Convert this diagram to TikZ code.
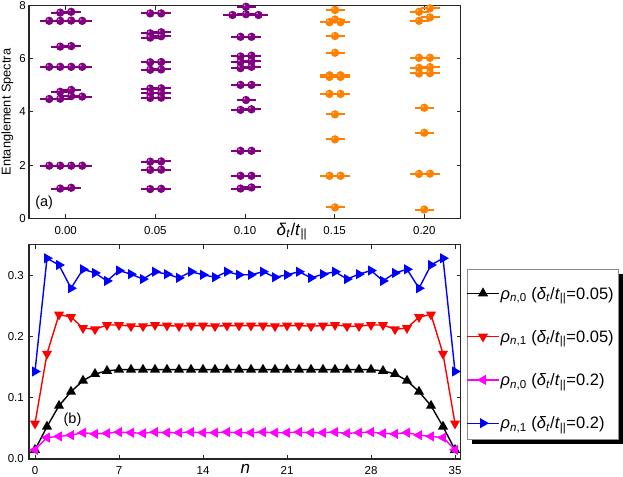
\documentclass[tikz,border=0pt]{standalone}
\usepackage{fontspec}
\setmainfont{Liberation Sans}
\usetikzlibrary{plotmarks}
\definecolor{vpurple}{RGB}{128,0,128}
\definecolor{vorange}{RGB}{255,128,0}
\definecolor{vmag}{RGB}{255,0,255}
\definecolor{vblue}{RGB}{0,0,255}
\definecolor{vred}{RGB}{255,0,0}
\newcommand\rlab[2]{\textit{ρ}\textsubscript{\textit{n},#1} (\textit{δ}\textsubscript{\textit{t}}/\textit{t}\textsubscript{||}=#2)}
\newcommand\ballrow[2]{\foreach \xx/\vv in #1 {
    \fill[#2] (\xx,\vv) circle[radius=4.2pt];
    \fill[#2!45!white] ([xshift=-1.5pt,yshift=1.5pt]\xx,\vv) circle[radius=1.0pt];}}
\newcommand\barrow[2]{\foreach \xx/\vv in #1 {\draw[levbar,#2] (\xx-9.5,\vv) -- (\xx+9.5,\vv);}}
\def\colA{60.2/7.74,71.2/7.77, 49.2/7.43,60.2/7.43,71.2/7.44,82.2/7.43, 60.2/6.46,71.2/6.48, 49.2/5.70,60.2/5.70,71.2/5.70,82.2/5.70, 60.2/4.76,71.2/4.83, 49.2/4.49,60.2/4.50,71.2/4.60,82.2/4.58, 49.2/1.98,60.2/1.98,71.2/1.98,82.2/1.98, 60.2/1.12,71.2/1.15}
\def\colB{150.2/7.71,161.2/7.71, 150.2/6.96,161.2/7.00, 150.2/6.80,161.2/6.85, 150.2/5.87,161.2/5.88, 150.2/5.59,161.2/5.60, 150.2/4.88,161.2/4.89, 150.2/4.70,161.2/4.71, 150.2/4.53,161.2/4.54, 150.2/2.13,161.2/2.14, 150.2/1.82,161.2/1.83, 150.2/1.10,161.2/1.11}
\def\colC{246/7.96, 232.5/7.65,246/7.68,258.5/7.65, 240.5/6.83,251.5/6.83, 240.5/6.09,251.5/6.12, 240.5/5.88,251.5/5.91, 240.5/5.65,251.5/5.70, 240.5/5.02,251.5/5.02, 246/4.45, 240.5/4.08,251.5/4.10, 240.5/2.54,251.5/2.54, 240.5/1.60,251.5/1.60, 240.5/1.12,251.5/1.16}
\def\colD{335/7.84, 329.5/7.38,335/7.48,340.5/7.38, 335/6.86, 335/6.23, 329.5/5.38,340.5/5.38, 329.5/5.32,340.5/5.32, 329.5/4.68,340.5/4.68, 335/3.91, 335/2.97, 329.5/1.60,340.5/1.60, 335/0.41}
\def\colE{419/7.77,430/7.90, 419/7.43,430/7.56, 419/6.04,430/6.04, 419/5.66,430/5.69, 419/5.45,430/5.46, 424.3/4.16, 424.3/3.22, 419/1.67,430/1.68, 424.3/0.33}
\begin{document}
\begin{tikzpicture}[x=1pt,y=-1pt,
  frame/.style={draw=black!85, line width=1.1pt},
  tickmark/.style={draw=black!85, line width=1pt},
  ticklab/.style={font=\fontsize{11.5}{13}\selectfont, inner sep=0pt},
  levbar/.style={line width=2pt},
  ser/.style={line width=1.4pt, mark size=4.5pt},
  leglab/.style={font=\fontsize{16.5}{19}\selectfont, anchor=base west, inner sep=0pt},
  biglab/.style={font=\fontsize{17}{20}\selectfont, anchor=base west, inner sep=0pt}]
\useasboundingbox (0,0) rectangle (623,476);
% ---------- top panel ----------
\draw[frame] (29,5.7) rectangle (460.7,218.3);
\foreach \xx in {65.7,155.35,245.0,334.65,424.3} {
  \draw[tickmark] (\xx,218.3) -- (\xx,214.3);
  \draw[tickmark] (\xx,5.7) -- (\xx,9.7);
}
\foreach \yy in {218.3,165.15,112.0,58.85,5.7} {
  \draw[tickmark] (29,\yy) -- (33,\yy);
  \draw[tickmark] (460.7,\yy) -- (456.7,\yy);
}
\node[ticklab, anchor=east] (ya0) at (26,218.3) {0};
\node[ticklab, anchor=east] (ya2) at (26,165.15) {2};
\node[ticklab, anchor=east] (ya4) at (26,112.0) {4};
\node[ticklab, anchor=east] (ya6) at (26,58.85) {6};
\node[ticklab, anchor=east] (ya8) at (26,5.7) {8};
\node[ticklab, anchor=base] (xa0) at (65.7,234.3) {0.00};
\node[ticklab, anchor=base] (xa1) at (155.35,234.3) {0.05};
\node[ticklab, anchor=base] (xa2) at (245.0,234.3) {0.10};
\node[ticklab, anchor=base] (xa3) at (334.65,234.3) {0.15};
\node[ticklab, anchor=base] (xa4) at (424.3,234.3) {0.20};
\node[biglab] (xlab) at (276.5,235) {\textit{δ}\textsubscript{\textit{t}}/\textit{t}\textsubscript{||}};
\node[font=\fontsize{12.8}{15}\selectfont, rotate=90, anchor=base, inner sep=0pt] (ylab) at (10.7,112) {Entanglement Spectra};
\node[font=\fontsize{14.5}{16}\selectfont, inner sep=0pt] (pa) at (44.2,203) {(a)};
\begin{scope}[shift={(0pt,-218.3pt)}, x=1pt, y=26.575pt]
  \barrow{\colA}{vpurple}
  \barrow{\colB}{vpurple}
  \barrow{\colC}{vpurple}
  \barrow{\colD}{vorange}
  \barrow{\colE}{vorange}
  \ballrow{\colA}{vpurple}
  \ballrow{\colB}{vpurple}
  \ballrow{\colC}{vpurple}
  \ballrow{\colD}{vorange}
  \ballrow{\colE}{vorange}
\end{scope}
% ---------- bottom panel ----------
\draw[frame] (29,244.8) rectangle (460.7,459);
\foreach \nn in {0,7,14,21,28,35} {
  \draw[tickmark] (35+12*\nn,459) -- (35+12*\nn,455);
  \draw[tickmark] (35+12*\nn,244.8) -- (35+12*\nn,248.8);
}
\foreach \yy in {459,397.8,336.6,275.4} {
  \draw[tickmark] (29,\yy) -- (33,\yy);
  \draw[tickmark] (460.7,\yy) -- (456.7,\yy);
}
\node[ticklab, anchor=east] (yb0) at (24,459) {0.0};
\node[ticklab, anchor=east] (yb1) at (24,397.8) {0.1};
\node[ticklab, anchor=east] (yb2) at (24,336.6) {0.2};
\node[ticklab, anchor=east] (yb3) at (24,275.4) {0.3};
\node[ticklab, anchor=base] (xb0) at (35,474.5) {0};
\node[ticklab, anchor=base] (xb1) at (119,474.5) {7};
\node[ticklab, anchor=base] (xb2) at (203,474.5) {14};
\node[ticklab, anchor=base] (xb3) at (287,474.5) {21};
\node[ticklab, anchor=base] (xb4) at (371,474.5) {28};
\node[ticklab, anchor=base] (xb5) at (455,474.5) {35};
\node[biglab, font=\fontsize{17}{20}\selectfont\itshape] (nlab) at (240.5,473.8) {n};
\begin{scope}[shift={(35pt,-459pt)}, x=12pt, y=612pt]
  \draw[ser, black] plot[mark=triangle*] coordinates {(0,0.015)(1,0.053)(2,0.087)(3,0.110)(4,0.128)(5,0.139)(6,0.144)(7,0.146)(8,0.146)(9,0.146)(10,0.146)(11,0.146)(12,0.146)(13,0.146)(14,0.146)(15,0.146)(16,0.146)(17,0.146)(18,0.146)(19,0.146)(20,0.146)(21,0.146)(22,0.146)(23,0.146)(24,0.146)(25,0.146)(26,0.146)(27,0.146)(28,0.146)(29,0.144)(30,0.139)(31,0.128)(32,0.110)(33,0.087)(34,0.053)(35,0.015)};
  \draw[ser, vred] plot[mark=triangle*, mark options={rotate=180}] coordinates {(0,0.058)(1,0.172)(2,0.236)(3,0.232)(4,0.214)(5,0.212)(6,0.219)(7,0.219)(8,0.217)(9,0.217)(10,0.219)(11,0.218)(12,0.217)(13,0.218)(14,0.218)(15,0.217)(16,0.218)(17,0.218)(18,0.218)(19,0.218)(20,0.217)(21,0.218)(22,0.218)(23,0.217)(24,0.218)(25,0.219)(26,0.217)(27,0.217)(28,0.219)(29,0.219)(30,0.212)(31,0.214)(32,0.232)(33,0.236)(34,0.172)(35,0.058)};
  \draw[ser, vmag] plot[mark=triangle*, mark options={rotate=90}] coordinates {(0,0.015)(1,0.035)(2,0.037)(3,0.039)(4,0.043)(5,0.041)(6,0.042)(7,0.044)(8,0.043)(9,0.042)(10,0.044)(11,0.043)(12,0.043)(13,0.044)(14,0.043)(15,0.043)(16,0.044)(17,0.043)(18,0.043)(19,0.044)(20,0.043)(21,0.043)(22,0.044)(23,0.043)(24,0.043)(25,0.044)(26,0.042)(27,0.043)(28,0.044)(29,0.042)(30,0.041)(31,0.043)(32,0.039)(33,0.037)(34,0.035)(35,0.015)};
  \draw[ser, vblue] plot[mark=triangle*, mark options={rotate=-90}] coordinates {(0,0.143)(1,0.328)(2,0.317)(3,0.279)(4,0.310)(5,0.304)(6,0.291)(7,0.308)(8,0.302)(9,0.294)(10,0.306)(11,0.302)(12,0.296)(13,0.306)(14,0.301)(15,0.297)(16,0.306)(17,0.301)(18,0.301)(19,0.306)(20,0.297)(21,0.301)(22,0.306)(23,0.296)(24,0.302)(25,0.306)(26,0.294)(27,0.302)(28,0.308)(29,0.291)(30,0.304)(31,0.310)(32,0.279)(33,0.317)(34,0.328)(35,0.143)};
\end{scope}
\node[font=\fontsize{14.5}{16}\selectfont, inner sep=0pt] (pb) at (72.5,419.7) {(b)};
% ---------- legend ----------
\fill[black] (471.5,273.8) rectangle (623,443.8);
\filldraw[fill=white, draw=black!45, line width=0.6pt] (467,269.3) rectangle (618.3,439.3);
\draw[ser, black] (467,293.3) -- (499,293.3) plot[mark=triangle*] coordinates {(483,293.3)};
\draw[ser, vred] (467,336.6) -- (499,336.6) plot[mark=triangle*, mark options={rotate=180}] coordinates {(483,336.6)};
\draw[ser, vmag] (467,379.9) -- (499,379.9) plot[mark=triangle*, mark options={rotate=90}] coordinates {(483,379.9)};
\draw[ser, vblue] (467,423.2) -- (499,423.2) plot[mark=triangle*, mark options={rotate=-90}] coordinates {(483,423.2)};
\node[leglab] (l1) at (500.5,299) {\rlab{0}{0.05}};
\node[leglab] (l2) at (500.5,342.3) {\rlab{1}{0.05}};
\node[leglab] (l3) at (500.5,385.6) {\rlab{0}{0.2}};
\node[leglab] (l4) at (500.5,428.9) {\rlab{1}{0.2}};
\end{tikzpicture}
\end{document}
